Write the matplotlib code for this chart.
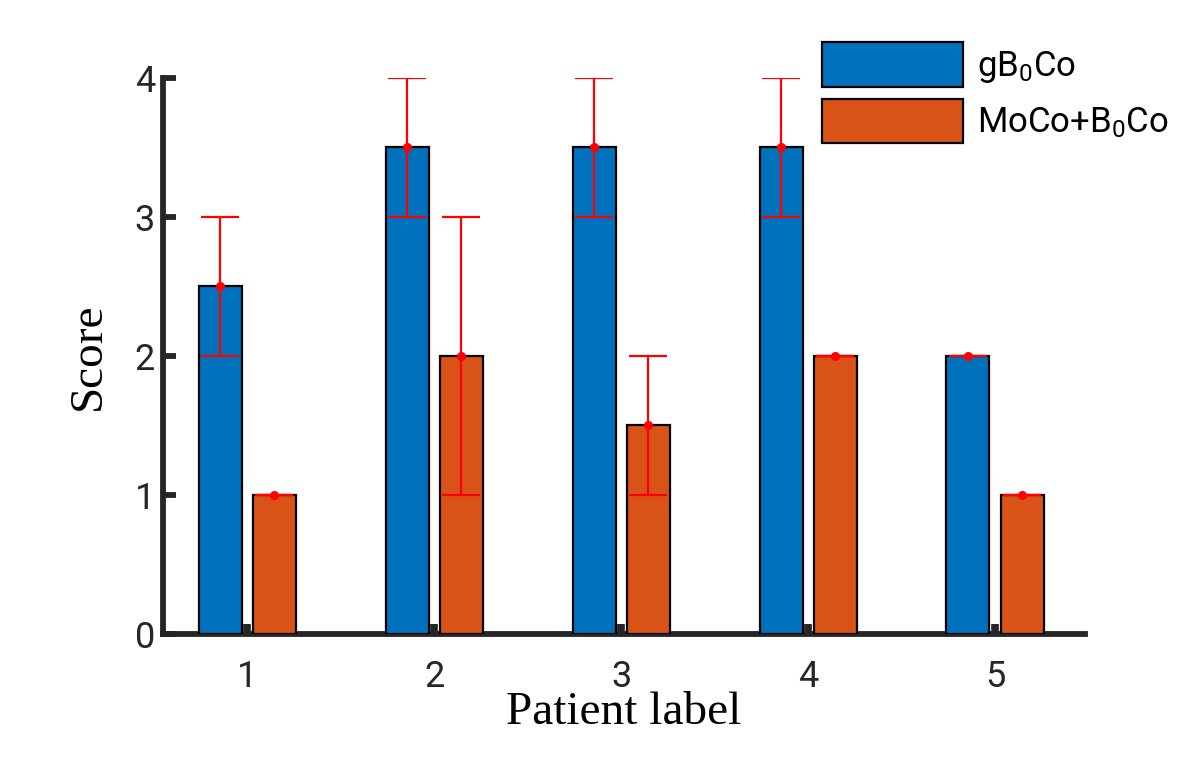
import numpy as np
import matplotlib.pyplot as plt

plt.rcParams['font.family'] = ['Roboto', 'DejaVu Sans']
plt.rcParams['mathtext.fontset'] = 'custom'
plt.rcParams['mathtext.rm'] = 'Roboto'
plt.rcParams['mathtext.default'] = 'regular'

patients = [1, 2, 3, 4, 5]
gb0co_mean = [2.5, 3.5, 3.5, 3.5, 2.0]
gb0co_err = [0.5, 0.5, 0.5, 0.5, 0.0]
moco_mean = [1.0, 2.0, 1.5, 2.0, 1.0]
moco_err = [0.0, 1.0, 0.5, 0.0, 0.0]
labels = ['gB$_0$Co', 'MoCo+B$_0$Co']
colors = ['#0072BD', '#D95319']

ax_color = '#262626'

fig = plt.figure(figsize=(12, 7.71), dpi=100)
ax = fig.add_axes([0.136, 0.178, 0.768, 0.721])

x = np.array(patients, dtype=float)
off = 0.145
w = 0.23

ax.bar(x - off, gb0co_mean, width=w, color=colors[0], edgecolor='black',
       linewidth=1.6, label=labels[0], zorder=3)
ax.bar(x + off, moco_mean, width=w, color=colors[1], edgecolor='black',
       linewidth=1.6, label=labels[1], zorder=3)

for xs, m, e in [(x - off, gb0co_mean, gb0co_err), (x + off, moco_mean, moco_err)]:
    ax.errorbar(xs, m, yerr=e, fmt='o', color='red', ecolor='red',
                markersize=5.5, elinewidth=1.6, capsize=14, capthick=1.6, zorder=4)

ax.set_xlim(0.55, 5.48)
ax.set_ylim(0, 4)
ax.set_xticks(patients)
ax.set_yticks([0, 1, 2, 3, 4])

for s in ['top', 'right']:
    ax.spines[s].set_visible(False)
for s in ['left', 'bottom']:
    ax.spines[s].set_linewidth(4.2)
    ax.spines[s].set_color(ax_color)

ax.tick_params(axis='y', direction='in', length=9, width=4.2, colors=ax_color,
               labelsize=26, pad=6)
ax.tick_params(axis='x', direction='in', length=7, width=5.5, colors=ax_color,
               labelsize=26, pad=18)

ax.set_ylabel('Score', family='Liberation Serif', fontsize=34, color='black', labelpad=18)
ax.set_xlabel('Patient label', family='Liberation Serif', fontsize=34, color='black', labelpad=-2)

ax.legend(loc='upper right', bbox_to_anchor=(1.125, 1.12), frameon=False, fontsize=25,
          handlelength=4.05, handleheight=1.58, labelspacing=0.35, handletextpad=0.4)

fig.savefig('out.png', dpi=100)
